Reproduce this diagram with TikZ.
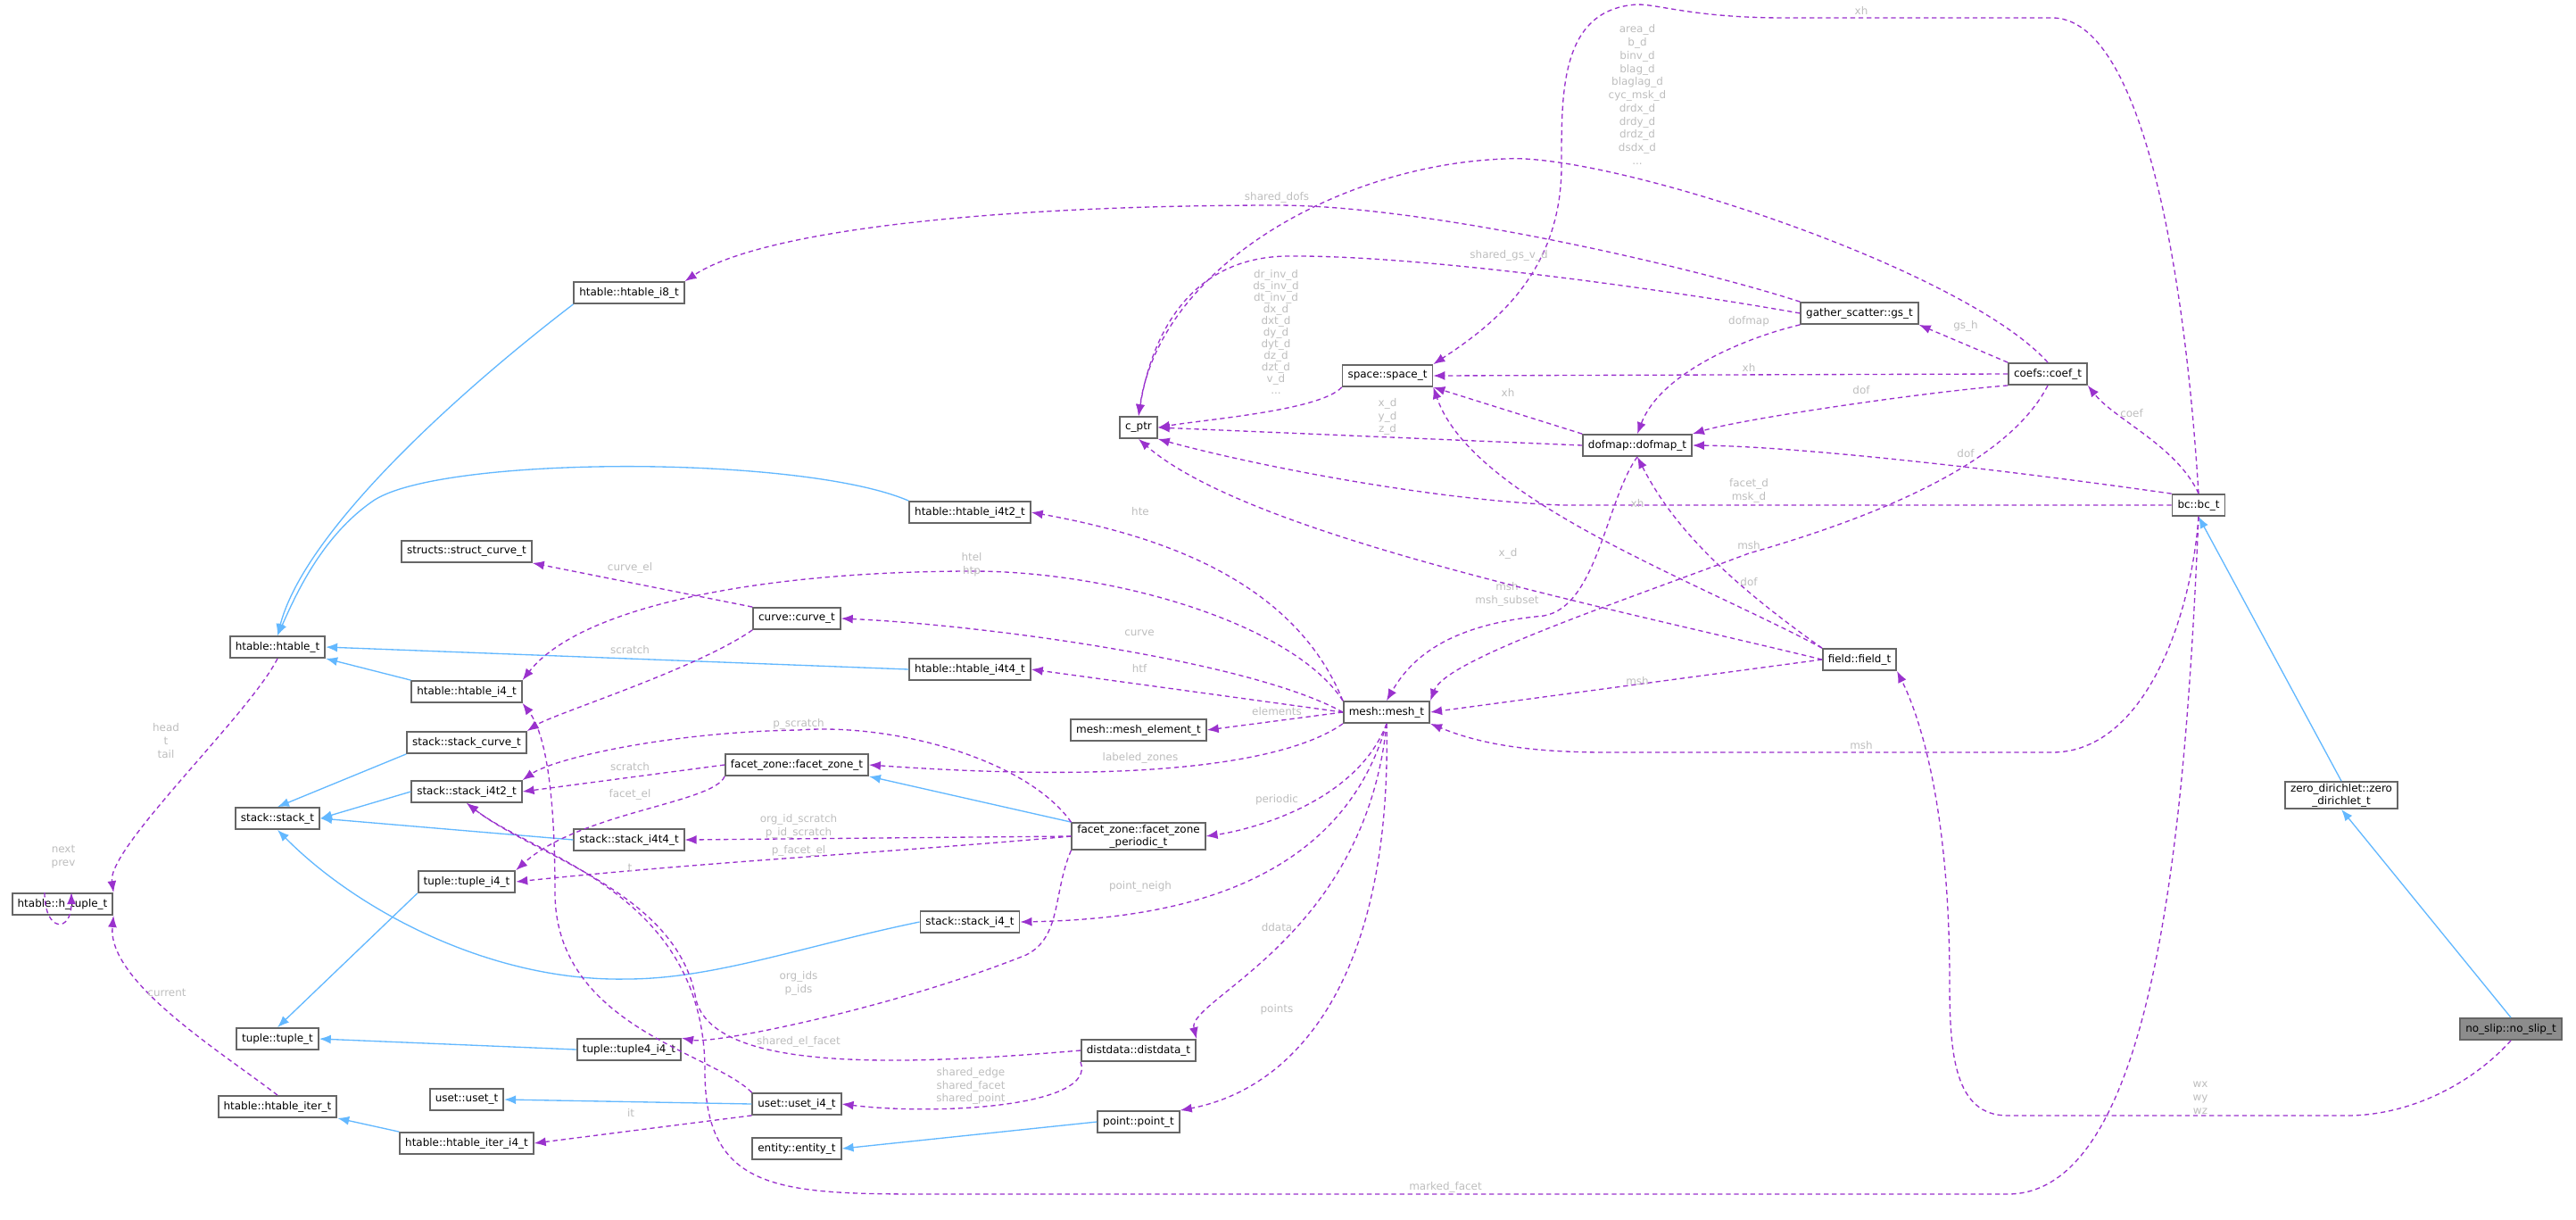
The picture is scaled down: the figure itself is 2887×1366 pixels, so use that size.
\documentclass[tikz,border=0pt]{standalone}
\usepackage{fontspec}
\setmainfont{DejaVu Sans}
\usepackage{tikz}
\usetikzlibrary{arrows.meta}

\definecolor{edgepurple}{HTML}{9A32CD}
\definecolor{edgeblue}{HTML}{63B8FF}
\definecolor{lblgray}{HTML}{BDBDBD}

\begin{document}
\begin{tikzpicture}[
  x = 0.01cm, y = -0.01cm,
  cls/.style = {
    draw = black!60,
    line width = 0.5pt,
    fill = white,
    minimum height = 0.24cm,
    inner xsep = 0.06cm,
    inner ysep = 0.02cm,
    font = \fontsize{3.4pt}{4pt}\selectfont,
    align = center
  },
  member/.style = {
    -{Latex[length=0.13cm, width=0.1cm]},
    edgepurple,
    line width = 0.38pt,
    dash pattern = on 1.5pt off 1.1pt
  },
  inherit/.style = {
    -{Latex[length=0.13cm, width=0.1cm]},
    edgeblue,
    line width = 0.38pt
  },
  lbl/.style = {
    text = lblgray,
    inner sep = 0pt,
    font = \fontsize{3.4pt}{4.2pt}\selectfont,
    align = center
  },
  ]
  \useasboundingbox (0, 0) rectangle (2887, 1366);

  % Classes.
  \node[cls, fill=black!45] (noslip) at (2814, 1153) {no\_slip::no\_slip\_t};
  \node[cls] (zero) at (2624, 891) {zero\_dirichlet::zero\\\_dirichlet\_t};
  \node[cls] (bc) at (2464, 566) {bc::bc\_t};
  \node[cls] (field) at (2084, 739) {field::field\_t};
  \node[cls] (coef) at (2295, 419) {coefs::coef\_t};
  \node[cls] (gs) at (2084, 351) {gather\_scatter::gs\_t};
  \node[cls] (dofmap) at (1835, 499) {dofmap::dofmap\_t};
  \node[cls] (space) at (1555, 421) {space::space\_t};
  \node[cls] (cptr) at (1276, 479) {c\_ptr};
  \node[cls] (mesh) at (1554, 798) {mesh::mesh\_t};
  \node[cls] (melem) at (1276, 818) {mesh::mesh\_element\_t};
  \node[cls] (i8) at (705, 328) {htable::htable\_i8\_t};
  \node[cls] (i4t2) at (1087, 574) {htable::htable\_i4t2\_t};
  \node[cls] (scurve) at (523, 618) {structs::struct\_curve\_t};
  \node[cls] (curve) at (893, 693) {curve::curve\_t};
  \node[cls] (htable) at (311, 725) {htable::htable\_t};
  \node[cls] (i4) at (523, 775) {htable::htable\_i4\_t};
  \node[cls] (i4t4) at (1087, 750) {htable::htable\_i4t4\_t};
  \node[cls] (stcurve) at (523, 832) {stack::stack\_curve\_t};
  \node[cls] (fz) at (893, 857) {facet\_zone::facet\_zone\_t};
  \node[cls] (si4t2) at (523, 887) {stack::stack\_i4t2\_t};
  \node[cls] (stack) at (311, 917) {stack::stack\_t};
  \node[cls] (si4t4) at (705, 941) {stack::stack\_i4t4\_t};
  \node[cls] (fzp) at (1276, 937) {facet\_zone::facet\_zone\\\_periodic\_t};
  \node[cls] (htuple) at (70, 1013) {htable::h\_tuple\_t};
  \node[cls] (ti4) at (523, 988) {tuple::tuple\_i4\_t};
  \node[cls] (si4) at (1087, 1033) {stack::stack\_i4\_t};
  \node[cls] (tuple) at (311, 1164) {tuple::tuple\_t};
  \node[cls] (t4i4) at (705, 1176) {tuple::tuple4\_i4\_t};
  \node[cls] (dd) at (1276, 1177) {distdata::distdata\_t};
  \node[cls] (uset) at (523, 1232) {uset::uset\_t};
  \node[cls] (ui4) at (893, 1237) {uset::uset\_i4\_t};
  \node[cls] (iter) at (311, 1240) {htable::htable\_iter\_t};
  \node[cls] (iteri4) at (523, 1281) {htable::htable\_iter\_i4\_t};
  \node[cls] (point) at (1276, 1257) {point::point\_t};
  \node[cls] (entity) at (893, 1287) {entity::entity\_t};

  % Inheritance.
  \draw[inherit] (noslip.north) -- (zero.south);
  \draw[inherit] (zero.north) -- (bc.south);
  \draw[inherit] (i8.south west) .. controls (500, 450) and (340, 600) .. (htable.north);
  \draw[inherit] (i4t2.north west) .. controls (900, 510) and (500, 510) .. (420, 560)
    .. controls (360, 600) and (330, 670) .. (htable.north);
  \draw[inherit] (i4.north west) -- (htable.south east);
  \draw[inherit] (i4t4.west) -- (htable.east);
  \draw[inherit] (stcurve.south west) -- (stack.north);
  \draw[inherit] (si4t2.west) -- (stack.east);
  \draw[inherit] (si4t4.west) -- (stack.east);
  \draw[inherit] (si4.west) .. controls (900, 1060) and (800, 1097) .. (702, 1097)
    .. controls (550, 1100) and (400, 1020) .. (stack.south);
  \draw[inherit] (ti4.south west) -- (tuple.north);
  \draw[inherit] (t4i4.west) -- (tuple.east);
  \draw[inherit] (ui4.west) -- (uset.east);
  \draw[inherit] (iteri4.north west) -- (iter.south east);
  \draw[inherit] (point.west) -- (entity.east);
  \draw[inherit] (fzp.north west) -- (fz.south east);

  % Members of no_slip_t and bc_t.
  \draw[member] (noslip.south) .. controls (2770, 1215) and (2700, 1250) .. (2630, 1250)
    -- (2250, 1250) .. controls (2190, 1250) and (2185, 1180) .. (2185, 1100)
    .. controls (2185, 900) and (2150, 800) .. (field.south east);
  \node[lbl] (l-wxyz) at (2466, 1230) {wx\\wy\\wz};
  \draw[member] (bc.north) .. controls (2445, 250) and (2390, 20) .. (2300, 20)
    -- (2000, 20) .. controls (1900, 20) and (1860, 5) .. (1835, 5)
    .. controls (1750, 10) and (1750, 100) .. (1750, 180)
    .. controls (1752, 300) and (1680, 360) .. (space.north east);
  \node[lbl] (l-xh-bc) at (2086, 12) {xh};
  \draw[member] (bc.west) -- (1750, 566) .. controls (1600, 560) and (1400, 520) .. (cptr.south east);
  \node[lbl] (l-facet) at (1960, 550) {facet\_d\\msk\_d};
  \draw[member] (bc.north) .. controls (2440, 500) and (2370, 470) .. (coef.south east);
  \node[lbl] (l-coef) at (2389, 463) {coef};
  \draw[member] (bc.north west) .. controls (2200, 520) and (2000, 500) .. (dofmap.east);
  \node[lbl] (l-dof-bc) at (2203, 508) {dof};
  \draw[member] (bc.south) .. controls (2455, 700) and (2400, 843) .. (2300, 843)
    -- (1800, 843) .. controls (1700, 843) and (1650, 830) .. (mesh.south east);
  \node[lbl] (l-msh-bc) at (2086, 835) {msh};
  \draw[member] (bc.south) .. controls (2450, 900) and (2420, 1338) .. (2250, 1338)
    -- (1060, 1338) .. controls (880, 1338) and (790, 1340) .. (790, 1200)
    .. controls (790, 1000) and (600, 960) .. (si4t2.south);
  \node[lbl] (l-marked) at (1620, 1330) {marked\_facet};

  % Members of coef_t and gs_t.
  \draw[member] (coef.north) .. controls (2200, 300) and (1800, 170) .. (1686, 178)
    .. controls (1500, 185) and (1300, 300) .. (cptr.north);
  \node[lbl] (l-area) at (1835, 106)
    {area\_d\\b\_d\\binv\_d\\blag\_d\\blaglag\_d\\cyc\_msk\_d\\drdx\_d\\drdy\_d\\drdz\_d\\dsdx\_d\\...};
  \draw[member] (coef.north west) -- (gs.south east);
  \node[lbl] (l-gsh) at (2203, 365) {gs\_h};
  \draw[member] (coef.west) -- (space.east);
  \node[lbl] (l-xh-coef) at (1960, 412) {xh};
  \draw[member] (coef.south west) .. controls (2150, 440) and (1950, 470) .. (dofmap.north east);
  \node[lbl] (l-dof-coef) at (2086, 437) {dof};
  \draw[member] (coef.south) .. controls (2250, 520) and (2100, 580) .. (1960, 620)
    .. controls (1800, 680) and (1620, 740) .. (mesh.north east);
  \node[lbl] (l-msh-coef) at (1960, 611) {msh};
  \draw[member] (gs.north west) .. controls (1900, 300) and (1600, 230) .. (1431, 230)
    .. controls (1100, 230) and (850, 260) .. (i8.north east);
  \node[lbl] (l-shdofs) at (1431, 221) {shared\_dofs};
  \draw[member] (gs.west) .. controls (1900, 330) and (1600, 285) .. (1440, 287)
    .. controls (1330, 290) and (1290, 380) .. (cptr.north);
  \node[lbl] (l-shgs) at (1691, 286) {shared\_gs\_v\_d};
  \draw[member] (gs.south west) .. controls (1950, 380) and (1860, 420) .. (dofmap.north);
  \node[lbl] (l-dofmap) at (1960, 360) {dofmap};

  % Members of space_t, dofmap_t and field_t.
  \draw[member] (space.south west) .. controls (1480, 460) and (1350, 470) .. (cptr.east);
  \node[lbl, font=\fontsize{3.4pt}{3.72pt}\selectfont] (l-drinv) at (1430, 372)
    {dr\_inv\_d\\ds\_inv\_d\\dt\_inv\_d\\dx\_d\\dxt\_d\\dy\_d\\dyt\_d\\dz\_d\\dzt\_d\\v\_d\\...};
  \draw[member] (dofmap.north west) -- (space.south east);
  \node[lbl] (l-xh-dofmap) at (1690, 440) {xh};
  \draw[member] (dofmap.west) -- (cptr.east);
  \node[lbl] (l-xyz) at (1555, 467) {x\_d\\y\_d\\z\_d};
  \draw[member] (dofmap.south) .. controls (1800, 560) and (1790, 680) .. (1730, 690)
    .. controls (1620, 700) and (1580, 740) .. (mesh.north);
  \node[lbl] (l-mshsub) at (1689, 666) {msh\\msh\_subset};
  \draw[member] (field.north west) .. controls (1900, 650) and (1650, 560) .. (space.south east);
  \node[lbl] (l-xh-field) at (1835, 564) {xh};
  \draw[member] (field.north west) .. controls (1920, 640) and (1870, 580) .. (dofmap.south);
  \node[lbl] (l-dof-field) at (1960, 652) {dof};
  \draw[member] (field.west) -- (mesh.east);
  \node[lbl] (l-msh-field) at (1835, 763) {msh};
  \draw[member] (field.west) .. controls (1800, 680) and (1400, 600) .. (cptr.south);
  \node[lbl] (l-xd) at (1690, 620) {x\_d};

  % Members of mesh_t.
  \draw[member] (mesh.north west) .. controls (1450, 650) and (1300, 600) .. (i4t2.east);
  \node[lbl] (l-hte) at (1278, 573) {hte};
  \draw[member] (mesh.north west) .. controls (1450, 700) and (1250, 640) .. (1090, 640)
    .. controls (850, 640) and (650, 680) .. (i4.north east);
  \node[lbl] (l-htel) at (1089, 633) {htel\\htp};
  \draw[member] (mesh.west) .. controls (1400, 740) and (1100, 700) .. (curve.east);
  \node[lbl] (l-curve) at (1277, 709) {curve};
  \draw[member] (mesh.west) -- (i4t4.east);
  \node[lbl] (l-htf) at (1277, 749) {htf};
  \draw[member] (mesh.west) -- (melem.east);
  \node[lbl] (l-elements) at (1431, 797) {elements};
  \draw[member] (mesh.south west) .. controls (1450, 850) and (1300, 880) .. (fz.east);
  \node[lbl] (l-labeled) at (1278, 849) {labeled\_zones};
  \draw[member] (mesh.south) .. controls (1520, 900) and (1400, 930) .. (fzp.east);
  \node[lbl] (l-periodic) at (1431, 896) {periodic};
  \draw[member] (mesh.south) .. controls (1500, 1000) and (1300, 1030) .. (si4.east);
  \node[lbl] (l-pneigh) at (1278, 993) {point\_neigh};
  \draw[member] (mesh.south) .. controls (1530, 1050) and (1330, 1120) .. (dd.north east);
  \node[lbl] (l-ddata) at (1431, 1039) {ddata};
  \draw[member] (mesh.south) .. controls (1560, 1100) and (1450, 1220) .. (point.north east);
  \node[lbl] (l-points) at (1431, 1131) {points};

  % Members of the remaining classes.
  \draw[member] (curve.north west) -- (scurve.south east);
  \node[lbl] (l-curveel) at (706, 636) {curve\_el};
  \draw[member] (curve.south west) .. controls (780, 750) and (620, 800) .. (stcurve.north east);
  \node[lbl] (l-scratch-c) at (706, 728) {scratch};
  \draw[member] (fz.west) -- (si4t2.east);
  \node[lbl] (l-scratch-fz) at (706, 859) {scratch};
  \draw[member] (fz.south west) .. controls (800, 900) and (650, 910) .. (ti4.north east);
  \node[lbl] (l-facetel) at (706, 890) {facet\_el};
  \draw[member] (fzp.north west) .. controls (1150, 850) and (1000, 810) .. (895, 818)
    .. controls (750, 820) and (620, 850) .. (si4t2.north east);
  \node[lbl] (l-pscratch) at (895, 811) {p\_scratch};
  \draw[member] (fzp.west) -- (si4t4.east);
  \node[lbl] (l-idscratch) at (895, 926) {org\_id\_scratch\\p\_id\_scratch};
  \draw[member] (fzp.west) .. controls (1000, 955) and (800, 965) .. (ti4.east);
  \node[lbl] (l-pfacetel) at (895, 953) {p\_facet\_el};
  \draw[member] (fzp.south west) .. controls (1180, 1000) and (1190, 1050) .. (1150, 1070)
    .. controls (1000, 1130) and (800, 1170) .. (t4i4.north east);
  \node[lbl] (l-orgids) at (895, 1102) {org\_ids\\p\_ids};
  \draw[member] (dd.west) .. controls (1000, 1195) and (800, 1200) .. (780, 1120)
    .. controls (760, 1000) and (600, 960) .. (si4t2.south);
  \node[lbl] (l-shelfacet) at (895, 1167) {shared\_el\_facet};
  \draw[member] (dd.south west) .. controls (1230, 1240) and (1050, 1250) .. (ui4.east);
  \node[lbl] (l-shared) at (1088, 1217) {shared\_edge\\shared\_facet\\shared\_point};
  \draw[member] (ui4.north west) .. controls (800, 1180) and (622, 1150) .. (622, 1000)
    .. controls (622, 880) and (610, 820) .. (i4.south east);
  \node[lbl] (l-t) at (706, 972) {t};
  \draw[member] (ui4.south west) -- (iteri4.east);
  \node[lbl] (l-it) at (707, 1247) {it};
  \draw[member] (htable.south) .. controls (280, 800) and (120, 950) .. (htuple.north east);
  \node[lbl] (l-head) at (186, 830) {head\\t\\tail};
  \draw[member] ([xshift=-0.2cm]htuple.north) .. controls +(0, -0.45cm) and +(0, -0.45cm)
    .. ([xshift=0.1cm]htuple.north);
  \node[lbl] (l-next) at (71, 960) {next\\prev};
  \draw[member] (iter.north) .. controls (250, 1180) and (120, 1100) .. (htuple.south east);
  \node[lbl] (l-current) at (187, 1112) {current};
\end{tikzpicture}
\end{document}
